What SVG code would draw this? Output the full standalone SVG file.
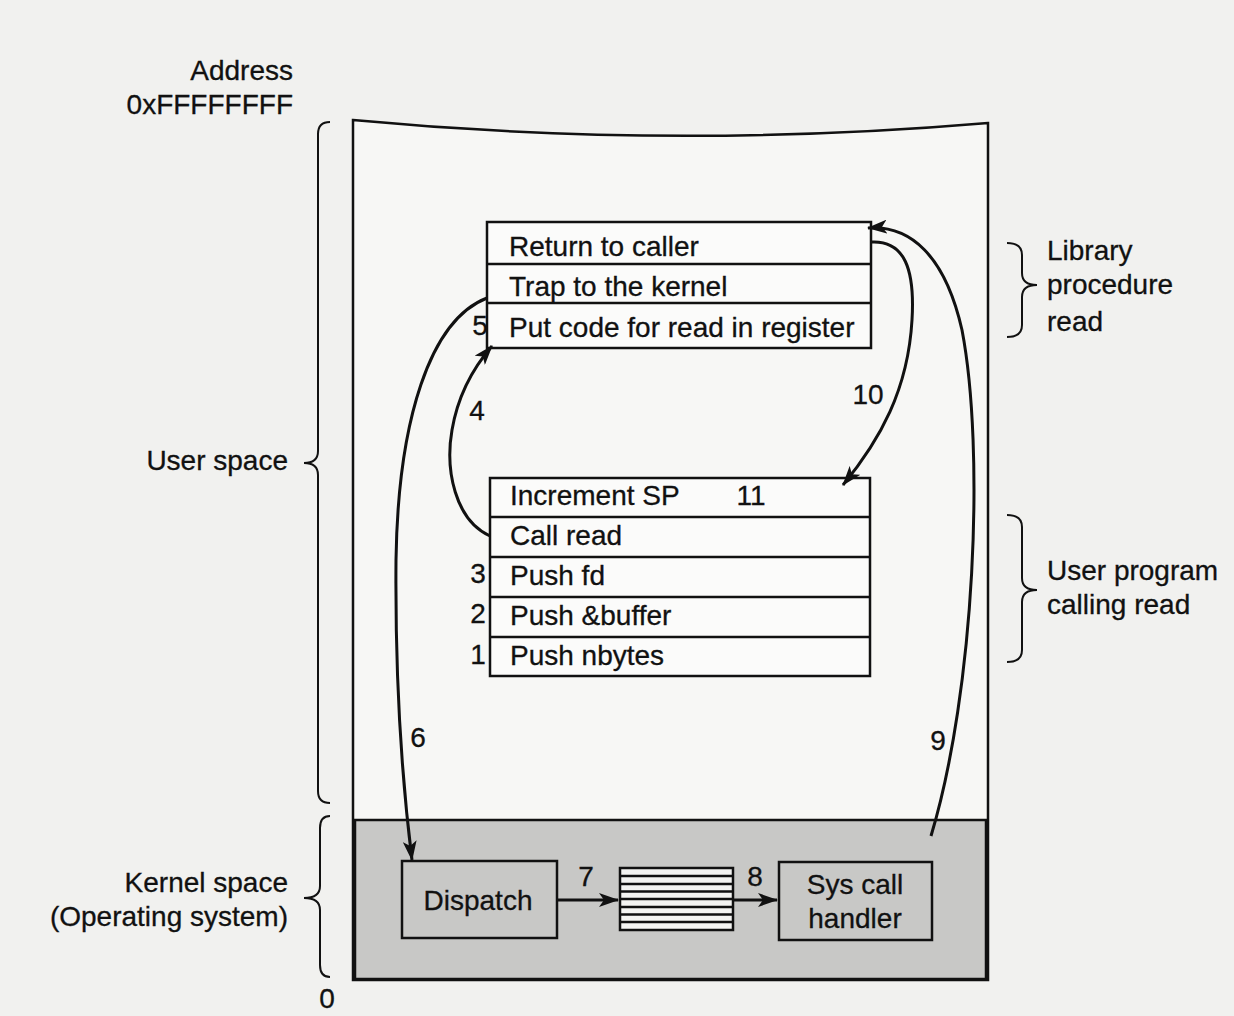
<svg xmlns="http://www.w3.org/2000/svg" width="1234" height="1016" viewBox="0 0 1234 1016">
<defs>
<style>
text{font-family:"Liberation Sans",Arial,sans-serif;font-size:28px;fill:#111;stroke:#111;stroke-width:0.3}
.box{fill:#fbfbfa;stroke:#111;stroke-width:2.5}
.kbox{fill:#c8c8c6;stroke:#111;stroke-width:2.5}
.ln{stroke:#111;stroke-width:2.5;fill:none}
.arr{stroke:#111;stroke-width:3;fill:none;marker-end:url(#ah)}
.br{stroke:#111;stroke-width:2;fill:none}
</style>
<marker id="ah" viewBox="0 0 20 14" refX="19" refY="7" markerWidth="20" markerHeight="14" markerUnits="userSpaceOnUse" orient="auto">
<path d="M0,0 L20,7 L0,14 L5,7 z" fill="#111"/>
</marker>
</defs>
<rect width="1234" height="1016" fill="#f1f1ef"/>

<g id="address-space">
<path d="M353,120 Q670,150 988,123 L988,980 L353,980 Z" fill="#f7f7f5" stroke="#111" stroke-width="2.5"/>
<rect x="355" y="820" width="631" height="159" fill="#c8c8c6" stroke="#111" stroke-width="2.5"/>
</g>

<g id="labels-left">
<text x="293" y="80" text-anchor="end">Address</text>
<text x="293" y="114" text-anchor="end">0xFFFFFFFF</text>
<text x="288" y="470" text-anchor="end">User space</text>
<text x="288" y="892" text-anchor="end">Kernel space</text>
<text x="288" y="926" text-anchor="end">(Operating system)</text>
<text x="327" y="1008" text-anchor="middle">0</text>
</g>

<g id="braces">
<path class="br" d="M330,122 Q318,122 318,134 L318,451 Q318,463 304,463 Q318,463 318,475 L318,791 Q318,803 330,803"/>
<path class="br" d="M330,816 Q320,816 320,828 L320,886 Q320,898 304,898 Q320,898 320,910 L320,965 Q320,977 330,977"/>
<path class="br" d="M1007,243 Q1022,243 1022,255 L1022,273 Q1022,285 1037,285 Q1022,285 1022,297 L1022,325 Q1022,337 1007,337"/>
<path class="br" d="M1007,515 Q1022,515 1022,527 L1022,578 Q1022,590 1037,590 Q1022,590 1022,602 L1022,650 Q1022,662 1007,662"/>
</g>

<g id="labels-right">
<text x="1047" y="260">Library</text>
<text x="1047" y="294">procedure</text>
<text x="1047" y="331">read</text>
<text x="1047" y="580">User program</text>
<text x="1047" y="614">calling read</text>
</g>

<g id="library-procedure">
<rect class="box" x="487" y="222" width="384" height="126"/>
<line class="ln" x1="487" y1="264" x2="871" y2="264"/>
<line class="ln" x1="487" y1="303" x2="871" y2="303"/>
<text x="509" y="256">Return to caller</text>
<text x="509" y="296">Trap to the kernel</text>
<text x="509" y="337">Put code for read in register</text>
<text x="480" y="335" text-anchor="middle">5</text>
</g>

<g id="user-program">
<rect class="box" x="490" y="478" width="380" height="198"/>
<line class="ln" x1="490" y1="517" x2="870" y2="517"/>
<line class="ln" x1="490" y1="557" x2="870" y2="557"/>
<line class="ln" x1="490" y1="597" x2="870" y2="597"/>
<line class="ln" x1="490" y1="637" x2="870" y2="637"/>
<text x="510" y="505">Increment SP</text>
<text x="510" y="545">Call read</text>
<text x="510" y="585">Push fd</text>
<text x="510" y="625">Push &amp;buffer</text>
<text x="510" y="665">Push nbytes</text>
<text x="478" y="583" text-anchor="middle">3</text>
<text x="478" y="623" text-anchor="middle">2</text>
<text x="478" y="664" text-anchor="middle">1</text>
</g>

<g id="dispatch">
<rect class="kbox" x="402" y="861" width="155" height="77"/>
<text x="478" y="910" text-anchor="middle">Dispatch</text>
</g>

<g id="table">
<rect x="620" y="868" width="113" height="62" fill="#f4f4f2" stroke="#111" stroke-width="2.5"/>
<g class="ln">
<line x1="620" y1="876" x2="733" y2="876"/>
<line x1="620" y1="884" x2="733" y2="884"/>
<line x1="620" y1="891.5" x2="733" y2="891.5"/>
<line x1="620" y1="899" x2="733" y2="899"/>
<line x1="620" y1="907" x2="733" y2="907"/>
<line x1="620" y1="914.5" x2="733" y2="914.5"/>
<line x1="620" y1="922" x2="733" y2="922"/>
</g>
</g>

<g id="syscall-handler">
<rect class="kbox" x="779" y="862" width="153" height="78"/>
<text x="855" y="894" text-anchor="middle">Sys call</text>
<text x="855" y="928" text-anchor="middle">handler</text>
</g>

<g id="connectors">
<path class="arr" d="M487,298 C430,320 398,420 396,560 C395,680 402,780 412,860"/>
<path class="arr" d="M490,536 C455,520 445,470 452,430 C458,395 473,368 492,346"/>
<path class="arr" d="M871,242 C905,240 915,270 912,320 C908,390 880,440 843,485"/>
<path class="arr" d="M931,836 C975,690 985,450 962,330 C945,255 910,225 868,228"/>
<path class="arr" d="M557,900 L618,900"/>
<path class="arr" d="M733,900 L777,900"/>
</g>

<g id="step-labels">
<text x="418" y="747" text-anchor="middle">6</text>
<text x="477" y="420" text-anchor="middle">4</text>
<text x="868" y="404" text-anchor="middle">10</text>
<text x="938" y="750" text-anchor="middle">9</text>
<text x="751" y="505" text-anchor="middle">11</text>
<text x="586" y="886" text-anchor="middle">7</text>
<text x="755" y="886" text-anchor="middle">8</text>
</g>
</svg>
